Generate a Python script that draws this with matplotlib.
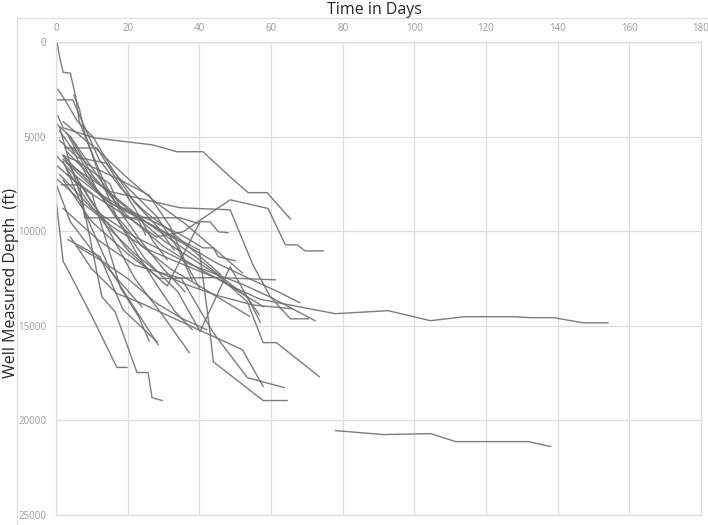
import matplotlib.pyplot as plt
from matplotlib.patches import Rectangle

plt.rcParams['font.family'] = ['Open Sans', 'DejaVu Sans']

# drilling progress per well: (day, measured depth ft)
wells = [
    [(0, 4300), (4, 5000), (10, 7000), (20, 9200), (30, 10800), (40, 12000), (50, 13000), (57, 13600),
     (68, 14000), (78, 14360), (92.7, 14200), (104.5, 14730), (114, 14520), (127.7, 14520),
     (132.4, 14570), (138.8, 14570), (147, 14840), (154, 14840)],
    [(78, 20540), (91.4, 20750), (104.5, 20700), (111.5, 21120), (131.8, 21120), (138, 21380)],
    [(0.5, 3900), (2, 4540), (10.9, 5070), (27, 5440), (33.8, 5800), (41, 5800), (49, 7200),
     (53.6, 7960), (58.9, 7960), (65.4, 9350)],
    [(0, 6500), (8, 7800), (18, 9000), (28, 10300), (35.5, 10030), (48.6, 8340), (59.2, 8800),
     (64, 10720), (67.3, 10720), (69.5, 11040), (74.6, 11040)],
    [(2, 6000), (10, 8500), (20, 11000), (31, 12900), (40.2, 9500), (43, 9500), (45.3, 10030), (48, 10080)],
    [(0, 6000), (5, 7000), (15, 8500), (25, 9300), (35, 10200), (41, 10880), (43.9, 10880),
     (45.3, 11350), (50, 11560)],
    [(2, 7300), (10, 9500), (20, 11200), (29, 12500), (45, 12450), (61.2, 12570)],
    [(2, 6200), (12, 8000), (25, 9500), (35, 10600), (45, 11700), (55, 12600), (62, 13200), (68, 13780)],
    [(1, 7000), (10, 8800), (22, 10300), (38, 11800), (52, 12800), (60, 13500), (72.3, 14730)],
    [(3, 6400), (15, 7900), (34.6, 8760), (48.6, 8870), (55, 11800), (59.8, 13460), (65.4, 14630), (70.4, 14630)],
    [(4, 5000), (15, 8000), (30, 10500), (45, 12300), (53.4, 13730), (57.8, 15890), (61.5, 15890), (73.5, 17690)],
    [(2, 6000), (15, 8500), (30, 10000), (40, 11000), (43, 15370), (43.9, 16900), (57.8, 18950), (64.5, 18950)],
    [(4, 10300), (10, 12000), (17, 13300), (23.5, 13780), (39.7, 15200), (52, 16260), (57.8, 18200)],
    [(2, 8800), (12, 10500), (22, 11800), (35, 12500), (43.9, 15370), (53.4, 17740), (63.7, 18270)],
    [(1, 4500), (4, 6500), (7.3, 8340), (12.8, 13460), (16.5, 14260), (22.6, 17470), (25.7, 17470),
     (26.8, 18800), (29.6, 18950)],
    [(0, 8300), (2, 11600), (3, 11930), (10, 14500), (17, 17200), (19.8, 17200)],
    [(3.4, 10450), (12.3, 11350), (18.7, 14150), (28.2, 15840)],
    [(2, 6300), (8, 9000), (15, 12000), (20, 13500), (28.5, 16000)],
    [(5, 7000), (12, 9000), (22, 12500), (30, 14500), (37.2, 16420)],
    [(3, 5800), (12, 7500), (25, 9500), (40, 11500), (53.4, 13500), (56.7, 14410)],
    [(3, 4800), (12, 8000), (25, 11500), (34, 13200), (40.2, 15300), (48.6, 11880), (54, 13700), (57, 14800)],
    [(0.3, 0), (1, 800), (2, 1600), (4, 1650), (5.5, 2900), (6.5, 4200), (9, 5400), (13, 7200),
     (18, 9000), (24, 10600), (30, 12000), (36, 13200)],
    [(0.5, 2500), (2.5, 3060), (6, 4200), (10.3, 5010), (16, 6800), (22, 8500), (28, 9700), (33, 11000)],
    [(0.3, 3060), (4.7, 3060), (8, 4500), (12, 6200), (18, 7700), (25, 9000), (32, 10000), (40, 11300), (46, 12300)],
    [(2, 4220), (11.5, 5700), (20, 7200), (28, 8500), (36, 9600), (44, 10900), (52, 12200)],
    [(2.5, 5600), (11.5, 5600), (16, 7000), (22, 8800), (27, 10500), (31, 11500)],
    [(5, 2800), (6.5, 3500), (8, 4800), (12, 7000), (17, 9300), (22, 11000), (28, 12800), (33, 14200), (38, 15200)],
    [(1, 4700), (4, 5500), (9, 7200), (16, 9000), (24, 10800), (32, 12000), (40, 12900), (47, 13700), (54, 14500)],
    [(0, 7200), (3, 7700), (8, 8600), (16, 9800), (26, 11000), (36, 11800), (45, 12500), (52, 13300), (58, 14000)],
    [(2, 6000), (6, 6300), (15, 7500), (19, 9200), (23, 9400), (25, 10200)],
    [(1.5, 7550), (6.7, 7550), (8, 9290), (34.6, 9290), (40, 9600)],
    [(3, 7000), (10, 8000), (14, 10500), (18, 13000), (23, 14500), (26, 15800)],
    [(6, 10800), (13, 11600), (20, 12500), (28, 13800), (35, 14600), (42, 15200)],
    [(0, 7500), (4, 9500), (10, 11000), (17, 12500), (24, 14000)],
    [(3, 6700), (8, 8200), (14, 9700), (22, 11200), (28, 12100), (36, 12800), (45, 13400), (55, 13900), (66, 14100)],
    [(4, 5500), (9, 6500), (18, 7300), (26, 8100), (32, 9800), (36, 11600), (40, 13000)],
    [(1, 5200), (6, 6100), (14, 6400), (20, 7700), (28, 9200), (34, 10900), (38, 12600)],
]
x_ticks = [0, 20, 40, 60, 80, 100, 120, 140, 160, 180]
y_ticks = [0, 5000, 10000, 15000, 20000, 25000]

fig = plt.figure(figsize=(7.08, 5.25), dpi=100)
ax = fig.add_axes([56 / 708, 10 / 525, 645 / 708, 473 / 525])

for w in wells:
    days = [p[0] for p in w]
    depth = [p[1] for p in w]
    ax.plot(days, depth, color='#6e6e6e', lw=1.0, alpha=0.9)

ax.set_xlim(0, 180)
ax.set_ylim(25000, 0)
ax.set_xticks(x_ticks)
ax.set_yticks(y_ticks)
ax.xaxis.tick_top()
ax.tick_params(length=0, labelsize=7, labelcolor='#9a9a9a')
ax.tick_params(axis='y', pad=7)
ax.tick_params(axis='x', pad=6)
ax.grid(True, color='#dcdcdc', lw=0.9)
ax.set_axisbelow(True)
for s in ax.spines.values():
    s.set_color('#dcdcdc')
    s.set_linewidth(0.9)

fig.text(374 / 708, 1 - 10 / 525, 'Time in Days', ha='center', va='center', fontsize=11.5, color='#262626')
fig.text(11 / 708, 1 - 283 / 525, 'Well Measured Depth  (ft)', rotation=90, ha='center', va='center',
         fontsize=11.5, color='#262626')

fig.patches.append(Rectangle((17 / 708, -0.01), 0.99, 1 - 18 / 525 + 0.01, transform=fig.transFigure,
                             fill=False, edgecolor='#dcdcdc', lw=0.9, zorder=-1))

plt.savefig('out.png', dpi=100)
